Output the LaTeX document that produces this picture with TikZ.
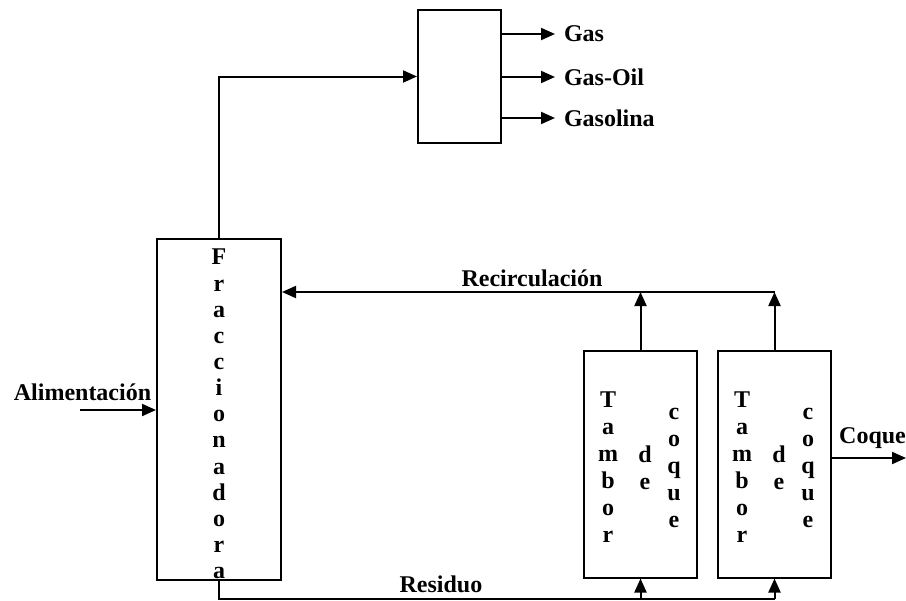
\documentclass[tikz,border=0pt]{standalone}
\usepackage{fontspec}
\setmainfont{Liberation Serif}
\usetikzlibrary{arrows.meta}
\begin{document}
\begin{tikzpicture}[x=0.75pt,y=-0.75pt,line width=1.5pt,
  box/.style={draw,inner sep=0pt,line width=1.5pt},
  lbl/.style={font=\fontsize{18}{20}\selectfont\bfseries,inner sep=0pt},
  outlbl/.style={lbl,anchor=west,inner xsep=6pt},
  col/.style={font=\fontsize{18}{20.25}\selectfont\bfseries,align=center,inner sep=0pt},
  fcol/.style={font=\fontsize{18}{19.6}\selectfont\bfseries,align=center,inner sep=0pt},
  arr/.style={-{Triangle[length=10.5pt,width=9pt]}}]
\useasboundingbox (0,0) rectangle (906,600);

% boxes
\node[box,minimum width=93pt,minimum height=255.75pt] (frac) at (219,409.5) {};
\node[box,minimum width=62.25pt,minimum height=99.75pt] (sep) at (459.5,76.5) {};
\node[box,minimum width=84.75pt,minimum height=170.25pt] (d1) at (640.5,464) {};
\node[box,minimum width=84.75pt,minimum height=170.25pt] (d2) at (774.5,464) {};

% vertical texts
\node[fcol] (fractxt) at (219,414) {F\\r\\a\\c\\c\\i\\o\\n\\a\\d\\o\\r\\a};
\node[col] (t1) at (608,467) {T\\a\\m\\b\\o\\r};
\node[col] (de1) at (645,468) {d\\e};
\node[col] (c1) at (674,468) {c\\o\\q\\u\\e};
\node[col] (t2) at (742,467) {T\\a\\m\\b\\o\\r};
\node[col] (de2) at (779,468) {d\\e};
\node[col] (c2) at (808,468) {c\\o\\q\\u\\e};

% outputs of separator
\node[outlbl] (gas) at (555,34) {Gas};
\node[outlbl] (gasoil) at (555,77) {Gas-Oil};
\node[outlbl] (gasolina) at (555,118) {Gasolina};
\draw[arr] (sep.east |- gas.west) -- (gas.west);
\draw[arr] (sep.east |- gasoil.west) -- (gasoil.west);
\draw[arr] (sep.east |- gasolina.west) -- (gasolina.west);

% fractionator to separator
\draw[arr] (frac.north) |- (sep.west);

% feed
\node[lbl] (alim) at (82.5,392) {Alimentación};
\coordinate (ain) at (80,410);
\draw[arr] (ain) -- (frac.west |- ain);

% recirculation
\coordinate (rc) at (774.5,292);
\node[lbl] (reclbl) at (532,278) {Recirculación};
\draw[arr] (rc) -- (frac.east |- rc);
\draw[arr] (d1.north) -- (d1.north |- rc);
\draw[arr] (d2.north) -- (rc);

% residue
\coordinate (rs) at (774.5,598.5);
\node[lbl] (reslbl) at (441,584) {Residuo};
\draw (frac.south) |- (rs);
\draw[arr] (d1.south |- rs) -- (d1.south);
\draw[arr] (rs) -- (d2.south);

% coke
\coordinate (cout) at (906,458);
\node[lbl] (coque) at (872.5,438) {Coque};
\draw[arr] (d2.east |- cout) -- (cout);
\end{tikzpicture}
\end{document}
